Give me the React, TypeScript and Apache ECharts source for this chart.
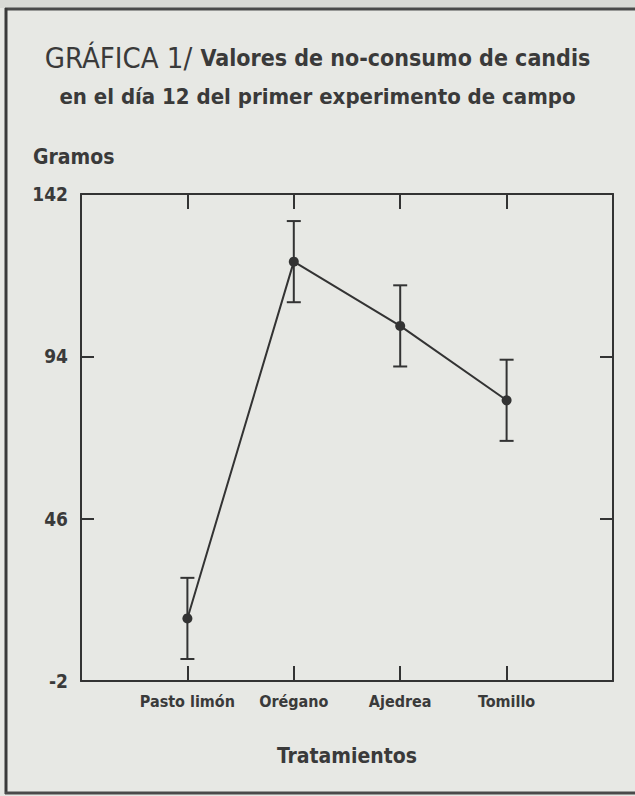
import React, { useEffect, useRef } from "react";
import * as echarts from "echarts";

const categories = ["Pasto limón", "Orégano", "Ajedrea", "Tomillo"];
const means = [16.5, 122, 103, 81];
const errLow = [4.5, 110, 91, 69];
const errHigh = [28.5, 134, 115, 93];
const yTicks = { min: -2, max: 142, interval: 48 };

const FONT = '"Liberation Sans Narrow", "DejaVu Sans Condensed", "Roboto Condensed", Arial, sans-serif';
const INK = "#3a3a3a";
const LINE = "#333333";

export default function App() {
  const ref = useRef<HTMLDivElement>(null);
  useEffect(() => {
    if (!ref.current) return;
    const chart = echarts.init(ref.current, undefined, { renderer: "svg" });
    const pts = categories.map((_, i) => [i + 1, means[i]]);
    const errs = categories.map((_, i) => [i + 1, errLow[i], errHigh[i]]);
    const xCommon = {
      type: "value",
      min: 0,
      max: categories.length + 1,
      interval: 1,
      splitLine: { show: false },
      axisLine: { show: true, onZero: false, lineStyle: { color: LINE, width: 2 } },
      axisTick: { show: true, inside: true, length: 15, lineStyle: { color: LINE, width: 2 } },
    };
    const yCommon = {
      type: "value",
      min: yTicks.min,
      max: yTicks.max,
      interval: yTicks.interval,
      splitLine: { show: false },
      axisLine: { show: true, onZero: false, lineStyle: { color: LINE, width: 2 } },
      axisTick: { show: true, inside: true, length: 13, lineStyle: { color: LINE, width: 2 } },
    };
    chart.setOption({
      animation: false,
      backgroundColor: "#e7e8e4",
      title: {
        left: "center",
        top: 33,
        text: "{a|GRÁFICA 1/ }{b|Valores de no-consumo de candis}\n{c|en el día 12 del primer experimento de campo}",
        textStyle: {
          rich: {
            a: { fontFamily: FONT, fontSize: 29, fontWeight: "normal", color: INK, lineHeight: 39 },
            b: { fontFamily: FONT, fontSize: 23, fontWeight: "bold", color: INK, lineHeight: 39 },
            c: { fontFamily: FONT, fontSize: 22, fontWeight: "bold", color: INK, lineHeight: 39 },
          },
        },
      },
      grid: { left: 81, top: 194, right: 22, bottom: 115 },
      xAxis: [
        {
          ...xCommon,
          position: "bottom",
          axisLabel: {
            show: true,
            margin: 12,
            color: INK,
            fontFamily: FONT,
            fontWeight: "bold",
            fontSize: 16,
            formatter: (v: number) => categories[v - 1] ?? "",
          },
        },
        { ...xCommon, position: "top", axisLabel: { show: false } },
      ],
      yAxis: [
        {
          ...yCommon,
          position: "left",
          axisLabel: {
            show: true,
            margin: 13,
            color: INK,
            fontFamily: FONT,
            fontWeight: "bold",
            fontSize: 19,
          },
        },
        { ...yCommon, position: "right", axisLabel: { show: false } },
      ],
      graphic: [
        { type: "rect", shape: { x: 0, y: 0, width: 635, height: 8 }, style: { fill: "#d9dad6" }, silent: true },
        { type: "line", shape: { x1: 5, y1: 9, x2: 635, y2: 9 }, style: { stroke: "#4a4a4a", lineWidth: 3 } },
        { type: "line", shape: { x1: 6, y1: 8, x2: 6, y2: 794 }, style: { stroke: "#3a3a3a", lineWidth: 3 } },
        { type: "line", shape: { x1: 5, y1: 793, x2: 635, y2: 793 }, style: { stroke: "#4a4a4a", lineWidth: 3 } },
        {
          type: "text",
          x: 33,
          y: 146,
          style: { text: "Gramos", fontFamily: FONT, fontWeight: "bold", fontSize: 21, fill: INK },
        },
        {
          type: "text",
          x: 347,
          y: 745,
          style: { text: "Tratamientos", fontFamily: FONT, fontWeight: "bold", fontSize: 21, fill: INK, align: "center" },
        },
      ],
      series: [
        {
          type: "custom",
          xAxisIndex: 0,
          yAxisIndex: 0,
          data: errs,
          renderItem: (params: any, api: any) => {
            const x = api.value(0);
            const lo = api.coord([x, api.value(1)]);
            const hi = api.coord([x, api.value(2)]);
            const hw = 7;
            const style = { stroke: LINE, lineWidth: 2 };
            return {
              type: "group",
              children: [
                { type: "line", shape: { x1: lo[0], y1: lo[1], x2: hi[0], y2: hi[1] }, style },
                { type: "line", shape: { x1: hi[0] - hw, y1: hi[1], x2: hi[0] + hw, y2: hi[1] }, style },
                { type: "line", shape: { x1: lo[0] - hw, y1: lo[1], x2: lo[0] + hw, y2: lo[1] }, style },
              ],
            };
          },
          z: 2,
        },
        {
          type: "line",
          xAxisIndex: 0,
          yAxisIndex: 0,
          data: pts,
          symbol: "circle",
          symbolSize: 10,
          lineStyle: { color: LINE, width: 2 },
          itemStyle: { color: LINE },
          z: 3,
        },
      ],
    });
    return () => chart.dispose();
  }, []);
  return (
    <div
      ref={ref}
      style={{ position: "fixed", left: 0, top: 0, width: 635, height: 796 }}
    />
  );
}
